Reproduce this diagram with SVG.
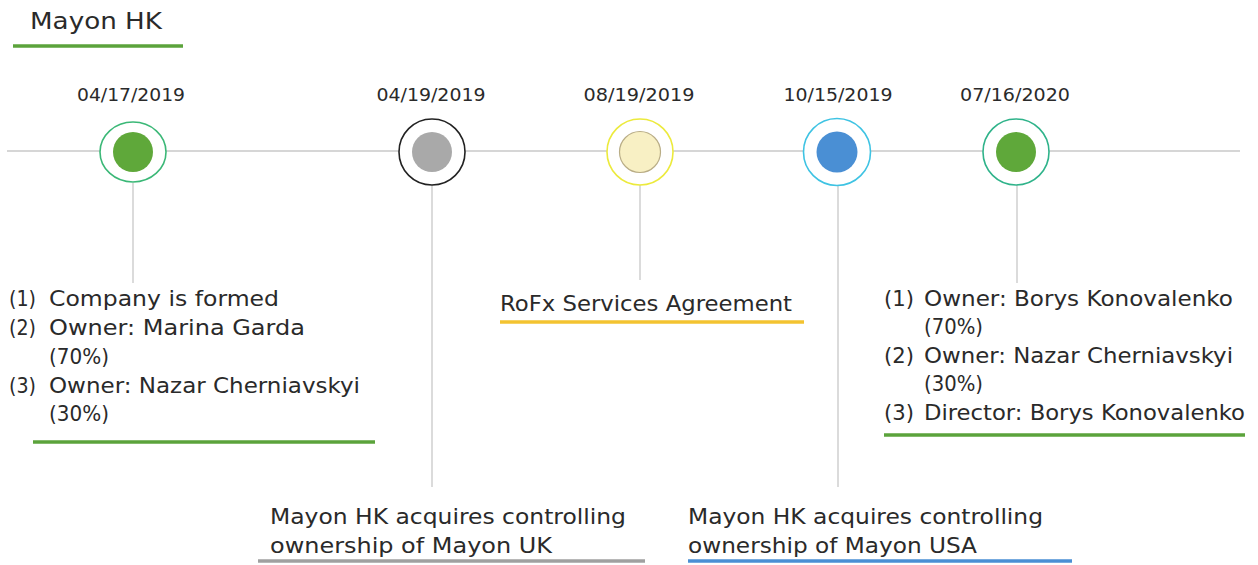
<svg xmlns="http://www.w3.org/2000/svg" width="1258" height="565" viewBox="0 0 1258 565">
<style>
text{font-family:"DejaVu Sans","Liberation Sans",sans-serif;fill:#2a2a2a}
.date{font-size:18.5px}
.body{font-size:20.5px}
.title{font-size:23px}
.conn{stroke:#c8c8c8;stroke-width:1.3;fill:none}
.ul{stroke-width:3.5;fill:none}
.ring{fill:#fff;stroke-width:1.6}
</style>
<rect width="1258" height="565" fill="#fff"/>
<g id="title">
<text class="title" x="30" y="29" textLength="132" lengthAdjust="spacingAndGlyphs">Mayon HK</text>
<line class="ul" x1="13" y1="46" x2="183" y2="46" stroke="#5ba33b" stroke-width="4"/>
</g>
<g id="connectors">
<line class="conn" x1="7" y1="151" x2="1240" y2="151"/>
<line class="conn" x1="133" y1="183" x2="133" y2="283"/>
<line class="conn" x1="432" y1="184" x2="432" y2="487"/>
<line class="conn" x1="640" y1="182" x2="640" y2="280" stroke="#ece9a8"/>
<line class="conn" x1="838" y1="185" x2="838" y2="487"/>
<line class="conn" x1="1017" y1="182" x2="1017" y2="283"/>
</g>
<g id="node1">
<text class="date" x="131" y="101" text-anchor="middle" textLength="108" lengthAdjust="spacingAndGlyphs">04/17/2019</text>
<ellipse class="ring" cx="133" cy="152" rx="33" ry="30" stroke="#3bb877"/>
<circle cx="133" cy="152" r="20" fill="#5fa83a"/>
<text class="body" x="9" y="306" textLength="27" lengthAdjust="spacingAndGlyphs">(1)</text>
<text class="body" x="49" y="306" textLength="230" lengthAdjust="spacingAndGlyphs">Company is formed</text>
<text class="body" x="9" y="335" textLength="27" lengthAdjust="spacingAndGlyphs">(2)</text>
<text class="body" x="49" y="335" textLength="256" lengthAdjust="spacingAndGlyphs">Owner: Marina Garda</text>
<text class="body" x="49" y="364" textLength="60" lengthAdjust="spacingAndGlyphs">(70%)</text>
<text class="body" x="9" y="393" textLength="27" lengthAdjust="spacingAndGlyphs">(3)</text>
<text class="body" x="49" y="393" textLength="311" lengthAdjust="spacingAndGlyphs">Owner: Nazar Cherniavskyi</text>
<text class="body" x="49" y="421" textLength="60" lengthAdjust="spacingAndGlyphs">(30%)</text>
<line class="ul" x1="33" y1="442" x2="375" y2="442" stroke="#5ba33b"/>
</g>
<g id="node2">
<text class="date" x="431" y="101" text-anchor="middle" textLength="109" lengthAdjust="spacingAndGlyphs">04/19/2019</text>
<circle class="ring" cx="432" cy="152" r="33" stroke="#222"/>
<circle cx="432" cy="152" r="20" fill="#a9a9a9"/>
<text class="body" x="270" y="524" textLength="356" lengthAdjust="spacingAndGlyphs">Mayon HK acquires controlling</text>
<text class="body" x="270" y="553" textLength="282" lengthAdjust="spacingAndGlyphs">ownership of Mayon UK</text>
<line class="ul" x1="258" y1="561" x2="645" y2="561" stroke="#a0a0a0"/>
</g>
<g id="node3">
<text class="date" x="639" y="101" text-anchor="middle" textLength="111" lengthAdjust="spacingAndGlyphs">08/19/2019</text>
<circle class="ring" cx="640" cy="152" r="33" stroke="#ecea3c"/>
<circle cx="640" cy="152" r="20.5" fill="#f8f0c4" stroke="#b9ad86" stroke-width="1.2"/>
<text class="body" x="500" y="311" textLength="292" lengthAdjust="spacingAndGlyphs">RoFx Services Agreement</text>
<line class="ul" x1="500" y1="322" x2="804" y2="322" stroke="#f3c330"/>
</g>
<g id="node4">
<text class="date" x="838" y="101" text-anchor="middle" textLength="109" lengthAdjust="spacingAndGlyphs">10/15/2019</text>
<circle class="ring" cx="837" cy="152" r="33.5" stroke="#3ec3e3"/>
<circle cx="837" cy="152" r="20.5" fill="#4a8fd4"/>
<text class="body" x="688" y="524" textLength="355" lengthAdjust="spacingAndGlyphs">Mayon HK acquires controlling</text>
<text class="body" x="688" y="553" textLength="289" lengthAdjust="spacingAndGlyphs">ownership of Mayon USA</text>
<line class="ul" x1="688" y1="561" x2="1072" y2="561" stroke="#4a8fd4"/>
</g>
<g id="node5">
<text class="date" x="1015" y="101" text-anchor="middle" textLength="110" lengthAdjust="spacingAndGlyphs">07/16/2020</text>
<circle class="ring" cx="1016" cy="152" r="33" stroke="#2fb38a"/>
<circle cx="1016" cy="152" r="20" fill="#5fa83a"/>
<text class="body" x="884" y="306" textLength="30" lengthAdjust="spacingAndGlyphs">(1)</text>
<text class="body" x="924" y="306" textLength="309" lengthAdjust="spacingAndGlyphs">Owner: Borys Konovalenko</text>
<text class="body" x="924" y="334" textLength="59" lengthAdjust="spacingAndGlyphs">(70%)</text>
<text class="body" x="884" y="363" textLength="30" lengthAdjust="spacingAndGlyphs">(2)</text>
<text class="body" x="924" y="363" textLength="309" lengthAdjust="spacingAndGlyphs">Owner: Nazar Cherniavskyi</text>
<text class="body" x="924" y="391" textLength="59" lengthAdjust="spacingAndGlyphs">(30%)</text>
<text class="body" x="884" y="420" textLength="30" lengthAdjust="spacingAndGlyphs">(3)</text>
<text class="body" x="924" y="420" textLength="321" lengthAdjust="spacingAndGlyphs">Director: Borys Konovalenko</text>
<line class="ul" x1="884" y1="435" x2="1245" y2="435" stroke="#5ba33b"/>
</g>
</svg>
